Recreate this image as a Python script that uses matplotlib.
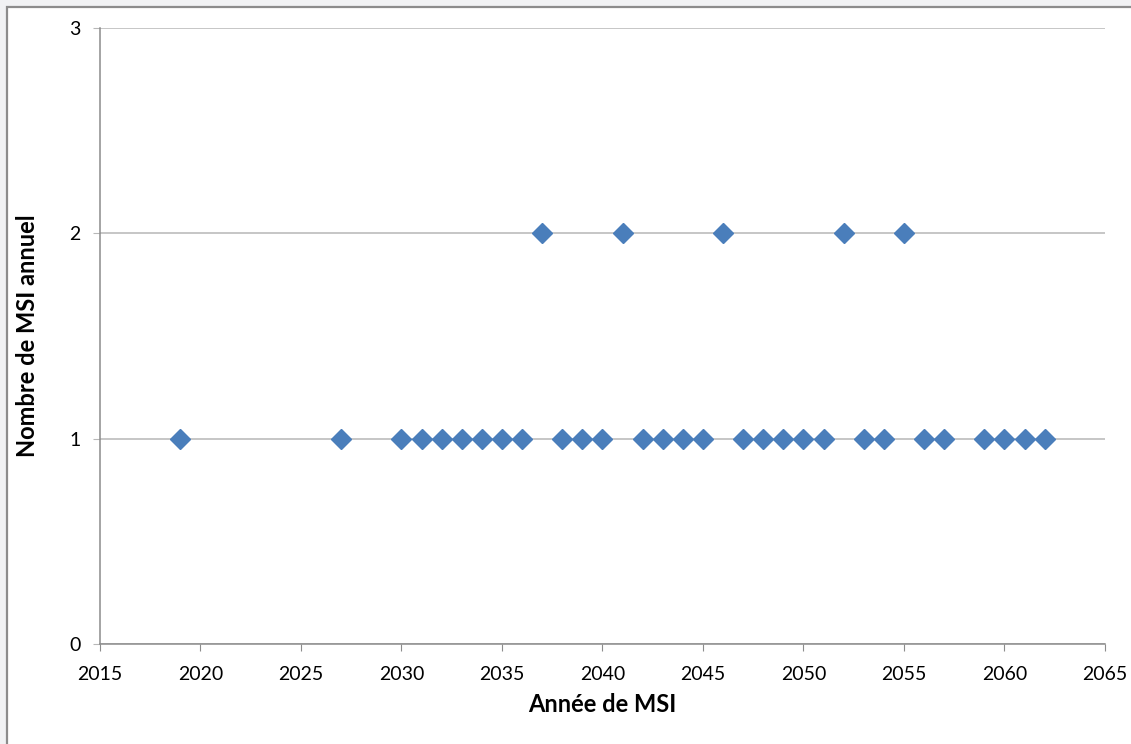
import matplotlib
matplotlib.use("Agg")
import matplotlib.pyplot as plt
from matplotlib.patches import Rectangle

# Année de MSI et nombre de MSI par an
years = [2019, 2027, 2030, 2031, 2032, 2033, 2034, 2035, 2036, 2037,
         2038, 2039, 2040, 2041, 2042, 2043, 2044, 2045, 2046, 2047,
         2048, 2049, 2050, 2051, 2052, 2053, 2054, 2055, 2056, 2057,
         2059, 2060, 2061, 2062]
counts = [1, 1, 1, 1, 1, 1, 1, 1, 1, 2,
          1, 1, 1, 2, 1, 1, 1, 1, 2, 1,
          1, 1, 1, 1, 2, 1, 1, 2, 1, 1,
          1, 1, 1, 1]

x_ticks = [2015, 2020, 2025, 2030, 2035, 2040, 2045, 2050, 2055, 2060, 2065]
y_ticks = [0, 1, 2, 3]

plt.rcParams['font.family'] = ['Lato', 'DejaVu Sans']

W, H = 1131, 744
fig = plt.figure(figsize=(W / 100, H / 100), dpi=100)
fig.patch.set_facecolor('#f1f2f4')

# cadre blanc du graphique, derrière les axes
frame = Rectangle((6.5 / W, -0.1), 1.2, 1 - 6.5 / H + 0.1, transform=fig.transFigure,
                  facecolor='white', edgecolor='#8c8c8c', linewidth=1.6, zorder=-1)
fig.patches.append(frame)

ax = fig.add_axes([100 / W, 1 - 644 / H, (1105 - 100) / W, (644 - 28) / H])
ax.set_facecolor('none')

ax.plot(years, counts, linestyle='none', marker='D', markersize=10,
        color='#4a7ebb', markeredgecolor='#4a7ebb', clip_on=False, zorder=3)

ax.set_xlim(2015, 2065)
ax.set_ylim(0, 3)
ax.set_xticks(x_ticks)
ax.set_yticks(y_ticks)
ax.grid(axis='y', color='#b7b7b7', linewidth=1.1)
ax.set_axisbelow(True)

for side in ['top', 'right']:
    ax.spines[side].set_visible(False)
for side in ['left', 'bottom']:
    ax.spines[side].set_color('#8c8c8c')
    ax.spines[side].set_linewidth(1.1)

ax.tick_params(axis='x', direction='out', length=5, color='#8c8c8c',
               labelsize=14, pad=11)
ax.tick_params(axis='y', direction='out', length=5, color='#b7b7b7',
               labelsize=14, pad=9)

ax.set_xlabel('Année de MSI', fontsize=17, fontweight='bold')
ax.set_ylabel('Nombre de MSI annuel', fontsize=17, fontweight='bold')
ax.xaxis.set_label_coords(0.5, -0.079)
ax.yaxis.set_label_coords(-0.061, 0.5)

fig.savefig('out.png', dpi=100, facecolor=fig.get_facecolor())
